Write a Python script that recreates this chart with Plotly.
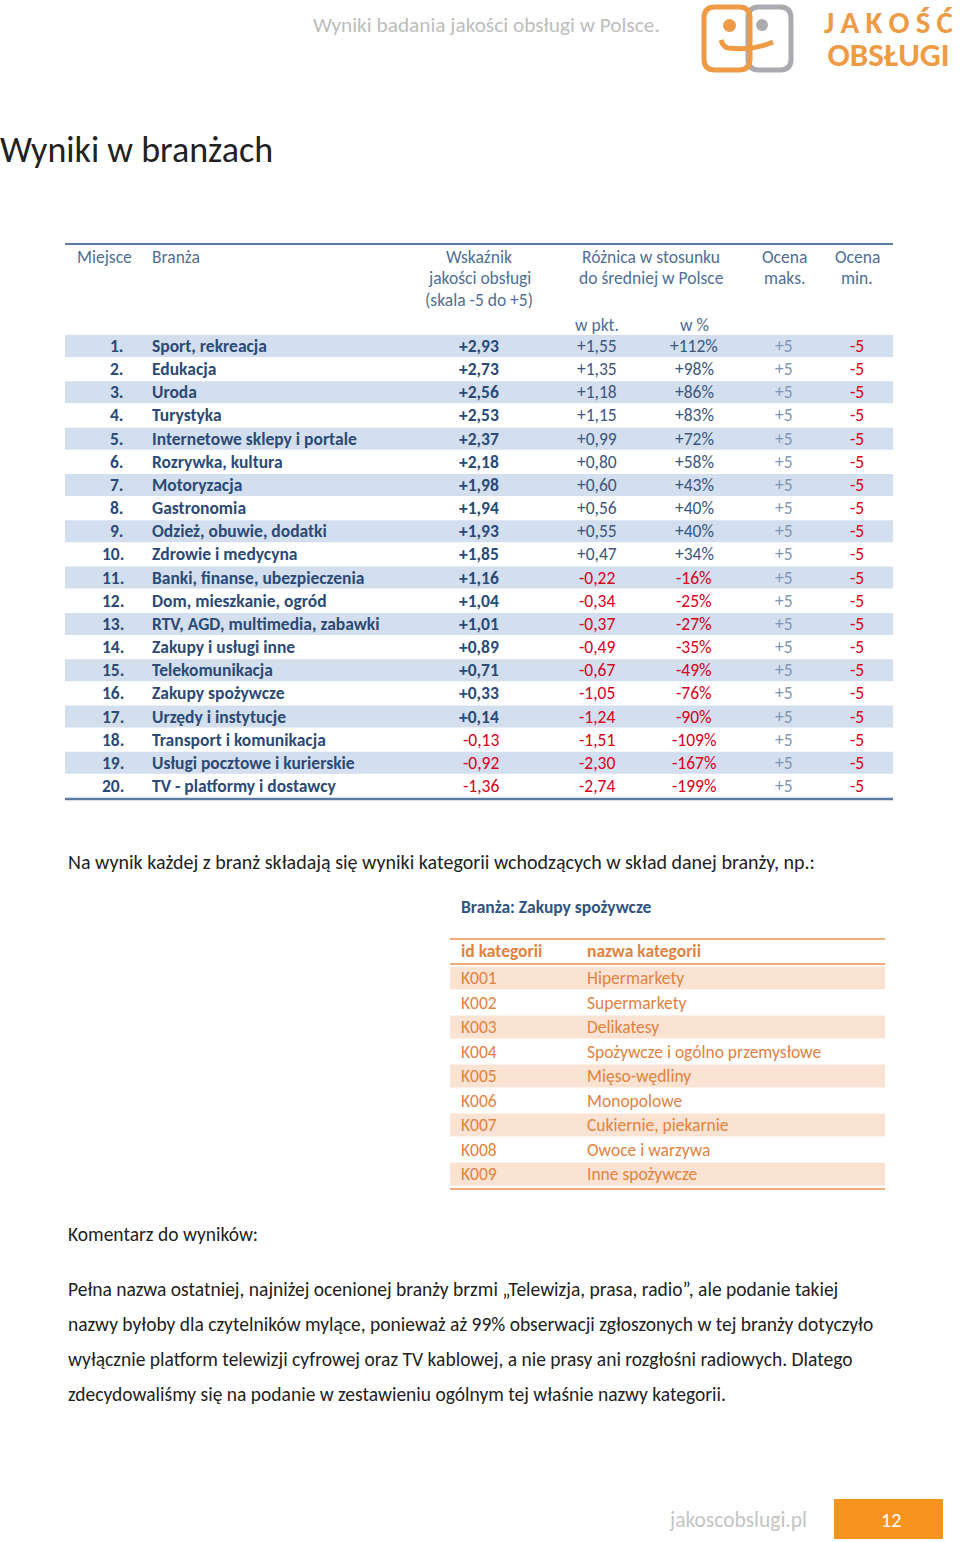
import plotly.graph_objects as go

# ---------------- data ----------------
places = [f"{i}." for i in range(1, 21)]
branze = ["Sport, rekreacja", "Edukacja", "Uroda", "Turystyka", "Internetowe sklepy i portale",
          "Rozrywka, kultura", "Motoryzacja", "Gastronomia", "Odzież, obuwie, dodatki",
          "Zdrowie i medycyna", "Banki, finanse, ubezpieczenia", "Dom, mieszkanie, ogród",
          "RTV, AGD, multimedia, zabawki", "Zakupy i usługi inne", "Telekomunikacja",
          "Zakupy spożywcze", "Urzędy i instytucje", "Transport i komunikacja",
          "Usługi pocztowe i kurierskie", "TV - platformy i dostawcy"]
wskaznik = [2.93, 2.73, 2.56, 2.53, 2.37, 2.18, 1.98, 1.94, 1.93, 1.85,
            1.16, 1.04, 1.01, 0.89, 0.71, 0.33, 0.14, -0.13, -0.92, -1.36]
roznica_pkt = [1.55, 1.35, 1.18, 1.15, 0.99, 0.80, 0.60, 0.56, 0.55, 0.47,
               -0.22, -0.34, -0.37, -0.49, -0.67, -1.05, -1.24, -1.51, -2.30, -2.74]
roznica_pct = [112, 98, 86, 83, 72, 58, 43, 40, 40, 34,
               -16, -25, -27, -35, -49, -76, -90, -109, -167, -199]
ocena_max = [5] * 20
ocena_min = [-5] * 20

cat_ids = ["K001", "K002", "K003", "K004", "K005", "K006", "K007", "K008", "K009"]
cat_names = ["Hipermarkety", "Supermarkety", "Delikatesy", "Spożywcze i ogólno przemysłowe",
             "Mięso-wędliny", "Monopolowe", "Cukiernie, piekarnie", "Owoce i warzywa",
             "Inne spożywcze"]

paragraph = [
    "Pełna nazwa ostatniej, najniżej ocenionej branży brzmi „Telewizja, prasa, radio”, ale podanie takiej",
    "nazwy byłoby dla czytelników mylące, ponieważ aż 99% obserwacji zgłoszonych w tej branży dotyczyło",
    "wyłącznie platform telewizji cyfrowej oraz TV kablowej, a nie prasy ani rozgłośni radiowych. Dlatego",
    "zdecydowaliśmy się na podanie w zestawieniu ogólnym tej właśnie nazwy kategorii.",
]

# ---------------- style ----------------
FONT = "Carlito, Calibri, Lato, sans-serif"
DARK = "#2b4a76"
DARK2 = "#3a5780"
RED = "#d9001b"
STEEL = "#4f6f96"
GRAYBLUE = "#8197b6"
BAND = "#d3deef"
ORANGE = "#e3823f"
PEACH = "#fbe3d3"
TXT = "#222222"
TS = 17.5  # table font size

W, H = 960, 1542
ann = []
shapes = []


def t(x, y, s, size=TS, color=TXT, anchor="left", bold=False):
    ann.append(dict(x=x, y=y, text=f"<b>{s}</b>" if bold else s, showarrow=False,
                    xanchor=anchor, yanchor="middle", xref="x", yref="y",
                    borderpad=0, borderwidth=0, align=anchor if anchor != "middle" else "center",
                    font=dict(family=FONT, size=size, color=color)))


def line(x0, y0, x1, y1, color, w):
    shapes.append(dict(type="line", x0=x0, y0=y0, x1=x1, y1=y1, xref="x", yref="y",
                       line=dict(color=color, width=w)))


def rect(x0, y0, x1, y1, fill):
    shapes.append(dict(type="rect", x0=x0, y0=y0, x1=x1, y1=y1, xref="x", yref="y",
                       fillcolor=fill, line=dict(width=0), layer="below"))


def fmt(v, dec=2):
    s = f"{abs(v):.{dec}f}".replace(".", ",")
    return ("+" if v >= 0 else "-") + s


# ---------------- page header ----------------
t(313, 25, "Wyniki badania jakości obsługi w Polsce.", size=21.3, color="#bdbdbd")


def rrect(x0, y0, x1, y1, r):
    return (f"M {x0+r},{y0} L {x1-r},{y0} Q {x1},{y0} {x1},{y0+r} L {x1},{y1-r} "
            f"Q {x1},{y1} {x1-r},{y1} L {x0+r},{y1} Q {x0},{y1} {x0},{y1-r} "
            f"L {x0},{y0+r} Q {x0},{y0} {x0+r},{y0} Z")


LOGO_OR = "#ef9a45"
LOGO_GR = "#a9abae"
shapes.append(dict(type="path", path=rrect(748, 7, 791, 70, 11), xref="x", yref="y",
                   line=dict(color=LOGO_GR, width=5)))
shapes.append(dict(type="path", path=rrect(704, 7, 750, 70, 11), xref="x", yref="y",
                   line=dict(color=LOGO_OR, width=5)))
shapes.append(dict(type="circle", x0=723, y0=19, x1=736, y1=32, xref="x", yref="y",
                   fillcolor=LOGO_OR, line=dict(width=0)))
shapes.append(dict(type="circle", x0=756, y0=19, x1=768, y1=31, xref="x", yref="y",
                   fillcolor=LOGO_GR, line=dict(width=0)))
shapes.append(dict(type="path", path="M 721,40 Q 723,47 728,48 Q 752,51 773,42",
                   xref="x", yref="y", line=dict(color=LOGO_OR, width=5)))
# two-line logo wordmark as one text; base size sets the tight line spacing
t(889, 39,
  "<span style='font-size:31px'><b>J\u2009A\u2009K\u2009O\u2009Ś\u2009Ć</b></span><br>"
  "<span style='font-size:33px'><b>OBSŁUGI</b></span>",
  size=25, color=LOGO_OR, anchor="center")

# ---------------- title ----------------
t(0, 150, "Wyniki w branżach", size=36, color=TXT)

# ---------------- table 1 ----------------
TX0, TX1 = 65, 893
line(TX0, 244, TX1, 244, "#5b7ba3", 2)
COL_PLACE, COL_NAME, COL_W, COL_PKT, COL_PCT, COL_MAX, COL_MIN = 124, 152, 499, 597, 694, 784, 857
hy = [257, 278, 300]
t(77, hy[0], "Miejsce", color=STEEL)
t(COL_NAME, hy[0], "Branża", color=STEEL)
for i, s in enumerate(["Wskaźnik", "jakości obsługi", "(skala -5 do +5)"]):
    t(479, hy[i], s, color=STEEL, anchor="center")
for i, s in enumerate(["Różnica w stosunku", "do średniej w Polsce"]):
    t(651, hy[i], s, color=STEEL, anchor="center")
for i, s in enumerate(["Ocena", "maks."]):
    t(COL_MAX, hy[i], s, color=STEEL, anchor="center")
for i, s in enumerate(["Ocena", "min."]):
    t(COL_MIN, hy[i], s, color=STEEL, anchor="center")
t(COL_PKT, 325, "w pkt.", color=STEEL, anchor="center")
t(COL_PCT, 325, "w %", color=STEEL, anchor="center")

Y0, STEP = 346, (786 - 346) / 19
for i in range(len(branze)):
    y = Y0 + i * STEP
    if i % 2 == 0:
        rect(TX0, y - 11, TX1, y + 11, BAND)
    t(COL_PLACE, y, places[i], color=DARK, anchor="right", bold=True)
    t(COL_NAME, y, branze[i], color=DARK, bold=True)
    w = wskaznik[i]
    t(COL_W, y, fmt(w), color=DARK if w >= 0 else RED, anchor="right", bold=w >= 0)
    p = roznica_pkt[i]
    t(COL_PKT, y, fmt(p), color=DARK2 if p >= 0 else RED, anchor="center")
    q = roznica_pct[i]
    t(COL_PCT, y, ("+" if q >= 0 else "-") + f"{abs(q)}%", color=DARK2 if q >= 0 else RED,
      anchor="center")
    t(COL_MAX, y, f"+{ocena_max[i]}", color=GRAYBLUE, anchor="center")
    t(COL_MIN, y, f"{ocena_min[i]}", color=RED, anchor="center")
line(TX0, 799, TX1, 799, "#5b7ba3", 2.5)

# ---------------- text ----------------
t(68, 862, "Na wynik każdej z branż składają się wyniki kategorii wchodzących w skład danej branży, np.:",
  size=20, color=TXT)
t(461, 907, "Branża: Zakupy spożywcze", color="#2f5382", bold=True)

# ---------------- table 2 ----------------
CX0, CX1 = 450, 885
line(CX0, 939, CX1, 939, "#f0ab7a", 2)
t(461, 951, "id kategorii", color=ORANGE, bold=True)
t(587, 951, "nazwa kategorii", color=ORANGE, bold=True)
line(CX0, 964, CX1, 964, "#f0ab7a", 2)
CY0, CSTEP = 978, (1174 - 978) / 8
for i in range(len(cat_ids)):
    y = CY0 + i * CSTEP
    if i % 2 == 0:
        rect(CX0, y - 11.5, CX1, y + 11.5, PEACH)
    t(461, y, cat_ids[i], color=ORANGE)
    t(587, y, cat_names[i], color=ORANGE)
line(CX0, 1189, CX1, 1189, "#f0ab7a", 2)

# ---------------- comment ----------------
t(68, 1234, "Komentarz do wyników:", size=19.5, color=TXT)
for i, s in enumerate(paragraph):
    t(68, 1289 + i * 35, s, size=19.5, color=TXT)

# ---------------- footer ----------------
t(738, 1520, "jakoscobslugi.pl", size=21.5, color="#c4c4c4", anchor="center")
shapes.append(dict(type="rect", x0=834, y0=1499, x1=943, y1=1539, xref="x", yref="y",
                   fillcolor="#f7941d", line=dict(width=0)))
t(891, 1520, "12", size=20, color="white", anchor="center")

fig = go.Figure()
fig.update_layout(
    width=W, height=H, margin=dict(l=0, r=0, t=0, b=0),
    paper_bgcolor="white", plot_bgcolor="white",
    xaxis=dict(range=[0, W], visible=False, fixedrange=True),
    yaxis=dict(range=[H, 0], visible=False, fixedrange=True),
    annotations=ann, shapes=shapes, showlegend=False,
)
fig.write_html("out.html", post_script="document.body.style.margin='0';",
               config={"displayModeBar": False})
